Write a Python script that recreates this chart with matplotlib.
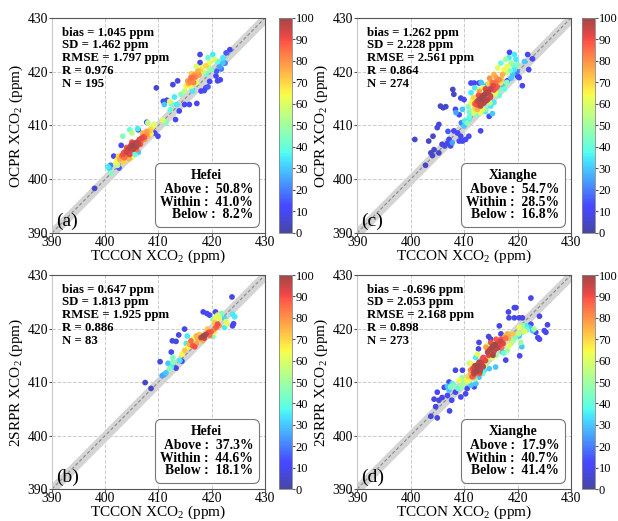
"""Scatter density comparison of OCPR / 2SRPR XCO2 against TCCON."""

import matplotlib

matplotlib.use("Agg")
import matplotlib.pyplot as plt
import numpy as np
from matplotlib.colors import ListedColormap
from matplotlib.offsetbox import AnchoredOffsetbox, TextArea, VPacker

plt.rcParams["font.family"] = ["Liberation Serif", "DejaVu Serif"]
plt.rcParams["mathtext.fontset"] = "custom"
plt.rcParams["mathtext.rm"] = "Liberation Serif"
plt.rcParams["mathtext.it"] = "Liberation Serif:italic"
plt.rcParams["mathtext.bf"] = "Liberation Serif:bold"

# ---- panel (a): OCPR vs TCCON, Hefei ----
a_x = [398.0, 400.5, 400.8, 401.1, 401.0, 401.6, 402.0, 402.3, 402.6, 402.7,
       403.0, 403.1, 403.3, 403.5, 403.8, 403.9, 404.2, 404.4, 404.6, 404.8,
       405.0, 405.2, 405.5, 405.8, 406.0, 406.2, 406.4, 406.7, 407.1, 407.4,
       407.7, 408.0, 408.3, 408.6, 408.9, 408.0, 409.2, 403.3, 404.6, 405.0,
       406.1, 407.8, 406.2, 403.5, 404.5, 405.6, 406.2, 404.9, 405.9, 409.3,
       409.9, 404.0, 405.3, 406.6, 407.2, 409.6, 411.4, 410.8, 413.2, 411.1,
       410.9, 411.6, 412.1, 412.4, 413.4, 413.9, 414.9, 415.8, 417.2, 412.2,
       412.7, 413.6, 414.2, 414.9, 413.0, 415.2, 415.5, 416.1, 416.4, 416.8,
       417.4, 417.1, 416.1, 416.4, 415.6, 417.0, 418.6, 418.0, 418.9, 419.3,
       417.8, 417.8, 417.1, 418.3, 418.9, 419.6, 419.3, 420.2, 420.5, 421.1,
       420.8, 421.1, 421.6, 420.9, 421.8, 422.1, 422.1, 422.7, 423.4, 419.6,
       419.0, 418.5, 419.5, 420.0, 421.5, 422.5, 415.9, 416.6, 417.6,
       404.0, 404.6, 405.3, 405.8, 406.3, 406.8, 407.3, 404.0, 405.0, 403.6,
       407.8, 408.5, 407.0, 402.5, 402.2, 415.9, 416.6, 417.6, 416.2, 417.9]
a_y = [398.3, 402.3, 402.0, 401.2, 402.6, 404.3, 403.0, 402.6, 402.1, 403.7,
       406.3, 404.3, 404.6, 405.0, 404.4, 405.2, 405.6, 405.0, 405.8, 406.3,
       405.5, 406.3, 406.0, 406.8, 406.2, 407.0, 407.4, 407.0, 407.9, 407.4,
       408.3, 408.0, 408.9, 408.5, 409.8, 410.5, 410.2, 408.0, 409.2, 408.6,
       409.4, 410.6, 409.2, 403.2, 403.8, 404.6, 405.0, 404.0, 405.5, 408.6,
       408.0, 404.9, 406.7, 406.5, 407.6, 417.0, 410.5, 411.0, 411.1, 413.9,
       414.5, 414.7, 414.5, 414.0, 413.9, 412.7, 413.9, 413.9, 414.1, 412.9,
       417.6, 418.3, 415.8, 416.4, 415.3, 417.3, 418.3, 418.9, 418.5, 419.5,
       420.1, 418.0, 417.3, 416.4, 417.8, 419.0, 416.5, 416.4, 417.0, 417.2,
       423.2, 421.7, 421.0, 420.8, 421.1, 421.7, 422.6, 423.2, 422.3, 421.9,
       419.2, 418.3, 418.5, 420.1, 420.5, 421.7, 422.6, 423.5, 424.1, 418.2,
       419.6, 419.9, 420.7, 420.4, 421.0, 421.6, 418.2, 419.0, 419.4,
       405.0, 404.6, 405.6, 406.0, 406.6, 407.6, 407.8, 405.9, 406.9, 404.0,
       408.9, 409.3, 408.6, 404.3, 403.6, 418.0, 418.0, 419.4, 419.6, 420.3]
a_d = [5, 35, 30, 45, 20, 10, 60, 55, 15, 75,
       10, 85, 90, 88, 85, 92, 95, 90, 98, 95,
       92, 100, 98, 97, 90, 92, 90, 85, 88, 80,
       80, 75, 72, 65, 62, 55, 60, 45, 40, 55,
       35, 10, 12, 70, 75, 40, 30, 60, 85, 10,
       10, 80, 95, 88, 82, 5, 45, 60, 10, 30,
       10, 10, 60, 45, 35, 10, 10, 10, 10, 40,
       8, 8, 45, 55, 35, 65, 78, 85, 80, 78,
       75, 62, 65, 35, 75, 80, 10, 10, 10, 15,
       8, 8, 60, 62, 70, 62, 40, 35, 60, 38,
       10, 10, 10, 15, 20, 30, 35, 15, 10, 12,
       40, 55, 50, 45, 25, 20, 82, 84, 78,
       95, 92, 98, 97, 95, 92, 90, 88, 90, 85,
       78, 70, 75, 70, 65, 80, 82, 78, 72, 70]

# ---- panel (c): OCPR vs TCCON, Xianghe ----
c_x = [400.8, 402.8, 403.4, 403.8, 404.1, 404.4, 404.2, 405.0, 405.3, 405.3,
       405.6, 406.1, 406.6, 405.9, 406.4, 406.9, 407.5, 407.8, 407.2, 407.9,
       408.1, 408.4, 408.5, 409.1, 409.4, 410.0, 409.7, 410.1, 408.8, 409.4,
       408.1, 409.1, 409.7, 410.3, 410.9, 410.0, 410.6, 410.9, 411.6, 411.9,
       413.1, 411.3, 411.9, 412.8, 413.8, 414.4, 414.7, 415.3, 411.3, 411.6,
       412.2, 412.8, 413.4, 414.1, 414.7, 415.3, 415.9, 416.6, 413.1, 413.7,
       414.4, 415.0, 415.9, 416.6, 417.2, 412.5, 412.0, 413.1, 414.1, 415.0,
       417.2, 417.5, 418.1, 418.8, 418.4, 418.5, 419.4, 419.7, 420.0, 419.4,
       419.1, 420.0, 420.3, 420.9, 418.1, 418.8, 421.9, 422.1, 422.8, 421.3,
       417.8, 416.9, 416.3, 415.6, 414.8, 413.0, 413.6, 414.3, 414.0, 413.4,
       412.6, 415.6, 416.2, 412.3, 411.0, 409.5, 407.0, 419.9, 412.9, 414.9,
       412.5, 413.0, 413.3, 413.8, 414.2, 414.6, 415.0, 415.5, 416.0, 412.0,
       413.6, 414.9, 415.3, 416.1, 412.7, 414.0, 411.8, 411.4, 412.1, 413.5,
       414.8, 415.8, 416.8, 417.0, 416.0, 413.6, 412.8, 414.6, 410.8, 411.0,
       412.3, 414.0, 415.6, 416.6, 417.6, 418.0, 412.0, 413.2, 417.8, 418.6,
       419.2]
c_y = [407.4, 402.6, 407.1, 404.9, 404.4, 405.5, 408.0, 409.6, 410.2, 404.9,
       413.6, 413.3, 413.5, 406.5, 406.2, 406.7, 406.2, 406.8, 407.4, 416.7,
       415.8, 413.0, 412.4, 412.0, 415.1, 414.8, 413.0, 410.8, 408.6, 408.0,
       409.0, 407.1, 407.1, 407.4, 408.0, 409.9, 410.5, 411.1, 412.7, 412.4,
       409.0, 417.9, 417.9, 417.9, 417.3, 417.6, 411.7, 412.2, 416.1, 414.8,
       414.2, 414.8, 415.4, 416.1, 416.7, 417.3, 417.9, 418.5, 413.6, 414.2,
       414.8, 415.4, 416.1, 416.7, 417.3, 413.0, 413.4, 412.4, 413.0, 413.6,
       419.5, 420.4, 421.0, 421.6, 422.6, 423.6, 423.2, 422.3, 421.3, 420.4,
       419.5, 419.2, 418.9, 417.4, 418.3, 418.8, 423.2, 420.4, 422.4, 421.9,
       422.3, 421.6, 420.7, 419.5, 418.8, 415.0, 415.6, 416.0, 414.5, 414.2,
       413.7, 416.6, 417.2, 413.9, 411.6, 410.5, 408.9, 420.0, 416.3, 415.2,
       414.5, 413.8, 414.9, 415.6, 414.7, 416.2, 416.8, 417.4, 417.0, 414.0,
       414.2, 415.5, 418.0, 418.2, 415.6, 416.8, 415.2, 414.1, 413.1, 413.0,
       414.2, 415.8, 417.9, 418.7, 418.9, 417.0, 416.6, 417.8, 413.5, 412.5,
       412.0, 412.6, 414.3, 415.6, 416.8, 418.0, 417.0, 418.0, 419.8, 420.2,
       421.2]
c_d = [5, 5, 5, 5, 5, 5, 5, 8, 8, 5,
       5, 5, 5, 8, 8, 8, 10, 25, 10, 5,
       5, 10, 25, 10, 8, 10, 30, 35, 10, 10,
       10, 10, 10, 10, 10, 30, 45, 35, 50, 60,
       10, 10, 10, 10, 30, 30, 10, 30, 35, 62,
       88, 98, 100, 98, 90, 88, 85, 82, 92, 97,
       95, 80, 62, 45, 30, 75, 60, 62, 45, 35,
       75, 65, 62, 50, 35, 10, 35, 35, 45, 35,
       30, 10, 10, 10, 12, 30, 10, 10, 10, 30,
       50, 40, 62, 75, 80, 95, 100, 96, 94, 93,
       85, 90, 88, 90, 40, 20, 15, 20, 78, 92,
       95, 97, 100, 100, 98, 97, 95, 92, 88, 85,
       96, 94, 85, 82, 90, 92, 70, 65, 70, 60,
       55, 55, 68, 72, 78, 62, 55, 70, 45, 40,
       45, 35, 35, 40, 40, 45, 35, 30, 55, 45,
       40]

# ---- panel (b): 2SRPR vs TCCON, Hefei ----
b_x = [407.5, 408.6, 410.3, 410.7, 411.1, 411.4, 412.1, 412.4, 411.8, 412.7,
       413.3, 414.0, 414.4, 414.4, 414.9, 415.2, 415.4, 414.9, 413.8, 412.6,
       413.3, 412.4, 412.7, 415.8, 416.1, 416.4, 417.1, 417.4, 417.7, 416.4,
       418.0, 418.4, 418.9, 419.4, 419.9, 418.3, 419.2, 417.1, 420.2, 420.5,
       420.8, 421.1, 421.4, 420.5, 420.2, 420.8, 421.4, 421.1, 421.8, 422.4,
       422.7, 422.9, 422.4, 423.9, 424.3, 424.1, 423.9, 423.8, 418.4, 419.1,
       420.7, 419.6, 415.5, 416.8, 418.6, 419.6, 420.4]
b_y = [409.9, 408.8, 413.8, 411.2, 411.4, 411.7, 412.5, 412.8, 413.5, 413.7,
       412.6, 414.0, 413.9, 415.2, 415.9, 417.2, 418.6, 419.9, 418.8, 417.7,
       417.6, 415.6, 414.6, 417.1, 417.7, 416.8, 417.1, 418.0, 418.9, 418.0,
       418.3, 418.6, 418.9, 419.3, 419.4, 417.7, 419.9, 418.6, 418.5, 419.3,
       420.2, 420.8, 420.5, 421.1, 421.7, 422.0, 421.9, 422.5, 422.8, 421.9,
       421.3, 420.9, 420.2, 422.7, 422.2, 420.9, 420.5, 425.9, 423.1, 422.8,
       423.1, 422.5, 416.5, 416.6, 418.2, 418.7, 419.8]
b_d = [5, 5, 8, 25, 25, 30, 45, 35, 30, 45,
       8, 35, 10, 65, 72, 35, 35, 8, 8, 8,
       8, 10, 45, 75, 85, 88, 78, 75, 72, 62,
       98, 100, 98, 90, 88, 75, 72, 75, 45, 62,
       88, 90, 78, 72, 50, 62, 62, 60, 45, 32,
       60, 62, 35, 35, 35, 10, 10, 8, 8, 10,
       10, 10, 65, 90, 95, 85, 80]

# ---- panel (d): 2SRPR vs TCCON, Xianghe ----
d_x = [403.8, 405.0, 404.7, 404.4, 405.3, 405.9, 405.0, 406.3, 407.2, 406.9,
       407.5, 407.8, 407.2, 406.9, 407.7, 407.3, 408.4, 408.1, 409.1, 409.6,
       409.7, 408.4, 409.4, 410.3, 410.6, 411.3, 411.9, 412.2, 412.8, 410.0,
       410.6, 411.3, 411.6, 412.2, 412.8, 413.4, 411.9, 413.1, 411.3, 412.2,
       412.5, 412.8, 412.7, 414.6, 415.0, 415.2, 414.1, 414.4, 415.0, 415.6,
       416.3, 416.9, 417.5, 418.1, 416.6, 415.3, 414.7, 414.1, 413.8, 414.7,
       415.9, 417.8, 417.2, 418.1, 418.4, 419.1, 419.1, 416.6, 416.9, 418.3,
       419.4, 419.7, 418.4, 419.4, 420.3, 420.9, 422.5, 424.1, 420.3, 420.9,
       421.6, 422.2, 422.5, 422.8, 423.1, 423.4, 423.8, 424.1, 425.0, 425.3,
       425.6, 420.6, 420.3, 420.8, 420.4, 421.3, 413.0, 413.6, 415.4, 416.0,
       415.7, 416.5, 417.2, 411.8, 412.6, 412.0, 414.0, 413.3, 417.8, 410.8,
       414.8, 415.3, 415.8, 416.3, 416.8, 417.3, 417.8, 415.0, 416.0, 414.6,
       415.5, 418.3, 417.0, 411.8, 412.3, 412.6, 413.0, 413.3, 412.0, 411.5,
       413.6, 412.9, 411.2, 410.8, 410.5, 409.6, 408.9, 411.0, 413.8, 414.2,
       414.3, 416.0, 417.4, 418.8, 419.5, 420.2, 421.0, 421.8, 413.5, 412.0]
d_y = [403.6, 403.3, 405.4, 406.8, 406.6, 407.1, 408.1, 409.0, 410.0, 409.2,
       409.1, 409.7, 408.5, 407.5, 406.6, 404.6, 408.1, 409.4, 410.3, 410.8,
       412.2, 412.2, 407.2, 407.8, 408.8, 409.4, 409.1, 409.7, 410.9, 409.7,
       410.6, 411.5, 412.5, 413.1, 413.7, 414.3, 411.5, 412.5, 413.4, 414.6,
       415.2, 417.4, 416.2, 418.5, 418.0, 417.1, 416.5, 415.6, 416.2, 416.8,
       417.4, 418.0, 418.3, 419.0, 416.8, 414.6, 414.6, 413.4, 412.2, 412.5,
       412.8, 414.1, 415.6, 415.9, 416.8, 417.7, 419.0, 420.5, 419.0, 423.1,
       423.9, 423.9, 422.0, 422.0, 422.0, 422.0, 425.7, 422.3, 420.2, 420.5,
       420.5, 420.2, 420.8, 419.6, 419.9, 419.3, 418.3, 418.0, 419.6, 419.3,
       420.7, 417.4, 418.6, 416.6, 414.9, 419.5, 412.0, 412.9, 415.0, 416.3,
       416.0, 417.0, 417.8, 411.0, 412.2, 412.4, 414.0, 413.2, 418.6, 410.2,
       416.0, 416.6, 417.0, 416.4, 417.6, 417.2, 418.2, 417.4, 418.0, 415.0,
       415.6, 418.2, 416.4, 411.8, 412.0, 413.0, 412.4, 413.6, 413.0, 411.0,
       414.6, 411.6, 412.2, 411.0, 410.2, 409.2, 408.8, 413.5, 413.0, 414.0,
       416.8, 415.0, 415.4, 417.2, 418.2, 419.0, 419.3, 419.8, 411.6, 410.6]
d_d = [8, 8, 8, 8, 8, 8, 10, 10, 10, 30,
       45, 35, 30, 10, 10, 8, 10, 45, 62, 50,
       8, 8, 10, 10, 10, 30, 10, 30, 30, 50,
       62, 75, 90, 98, 98, 90, 97, 90, 62, 35,
       62, 8, 8, 8, 8, 30, 78, 98, 98, 98,
       90, 88, 78, 75, 90, 62, 50, 50, 35, 30,
       30, 8, 30, 50, 62, 50, 72, 8, 8, 8,
       8, 8, 8, 8, 8, 8, 8, 8, 62, 50,
       35, 30, 10, 30, 50, 10, 10, 10, 10, 10,
       8, 50, 30, 30, 10, 62, 95, 97, 100, 97,
       95, 92, 85, 80, 98, 96, 92, 95, 70, 60,
       98, 100, 100, 97, 95, 92, 85, 90, 88, 92,
       95, 75, 85, 95, 100, 100, 97, 95, 92, 88,
       90, 90, 80, 70, 62, 50, 40, 55, 60, 70,
       55, 50, 40, 55, 45, 55, 45, 40, 40, 50]

panel_tags = ["(a)", "(c)", "(b)", "(d)"]
y_labels = ["OCPR XCO$_2$ (ppm)", "OCPR XCO$_2$ (ppm)",
            "2SRPR XCO$_2$ (ppm)", "2SRPR XCO$_2$ (ppm)"]
stations = ["Hefei", "Xianghe", "Hefei", "Xianghe"]
bias = ["1.045", "1.262", "0.647", "-0.696"]
sd = ["1.462", "2.228", "1.813", "2.053"]
rmse = ["1.797", "2.561", "1.925", "2.168"]
r_vals = ["0.976", "0.864", "0.886", "0.898"]
n_vals = ["195", "274", "83", "273"]
above = ["50.8%", "54.7%", "37.3%", "17.9%"]
within = ["41.0%", "28.5%", "44.6%", "40.7%"]
below = ["8.2%", "16.8%", "18.1%", "41.4%"]

LIMITS = (390, 430)
BAND = 1.2

# jet, washed out towards white (looks like alpha ~0.72)
_jet = plt.get_cmap("jet")(np.linspace(0, 1, 256))[:, :3]
CMAP = ListedColormap(0.72 * _jet + 0.28)

TICK_SIZE = 9.8
LABEL_SIZE = 11


def draw_panel(fig, rect, cbar_rect, xs, ys, ds, idx):
    ax = fig.add_axes(rect)
    line = np.array(LIMITS)
    ax.fill_between(line, line - BAND, line + BAND, color="#d4d4d4", zorder=1, lw=0)
    ax.plot(line, line, ls=(0, (3, 2)), color="#8a8a8a", lw=0.8, zorder=2)

    order = np.argsort(ds, kind="stable")
    x = np.asarray(xs)[order]
    y = np.asarray(ys)[order]
    d = np.asarray(ds)[order]
    sc = ax.scatter(x, y, c=d, cmap=CMAP, vmin=0, vmax=100, s=17,
                    edgecolors="none", zorder=3)

    ax.set_xlim(*LIMITS)
    ax.set_ylim(*LIMITS)
    ticks = np.arange(390, 431, 10)
    ax.set_xticks(ticks)
    ax.set_yticks(ticks)
    ax.tick_params(labelsize=TICK_SIZE, length=2, color="#555555", pad=1)
    ax.tick_params(axis="x", pad=0.5)
    ax.grid(True, ls="--", color="#cccccc", lw=0.7, zorder=0)
    ax.set_axisbelow(True)
    for side in ["top", "right", "bottom"]:
        ax.spines[side].set_color("#555555")
    ax.spines["left"].set_color("#c8c8c8")
    ax.set_xlabel("TCCON XCO$_2$ (ppm)", fontsize=LABEL_SIZE, labelpad=-1)
    ax.set_ylabel(y_labels[idx], fontsize=LABEL_SIZE, labelpad=2)

    stats = (f"bias = {bias[idx]} ppm\nSD = {sd[idx]} ppm\n"
             f"RMSE = {rmse[idx]} ppm\nR = {r_vals[idx]}\nN = {n_vals[idx]}")
    ax.text(0.045, 0.96, stats, transform=ax.transAxes, ha="left", va="top",
            fontsize=9.2, fontweight="bold", linespacing=1.1, zorder=5)

    bold = dict(fontsize=9.8, fontweight="bold")
    title = TextArea(stations[idx], textprops=bold)
    body = TextArea(f"Above :  {above[idx]}\nWithin :  {within[idx]}\n"
                    f"Below :  {below[idx]}",
                    textprops=dict(multialignment="right", linespacing=0.95, **bold))
    pack = VPacker(children=[title, body], align="center", pad=0, sep=1)
    box = AnchoredOffsetbox(loc="lower right", child=pack, pad=0.3,
                            borderpad=0.55, frameon=True)
    box.patch.set_boxstyle("round,pad=0.1,rounding_size=0.4")
    box.patch.set_edgecolor("#777777")
    box.patch.set_linewidth(0.8)
    box.set_zorder(5)
    ax.add_artist(box)

    ax.text(0.02, 0.012, panel_tags[idx], transform=ax.transAxes,
            ha="left", va="bottom", fontsize=14, zorder=5)

    cax = fig.add_axes(cbar_rect)
    cb = fig.colorbar(sc, cax=cax, ticks=np.arange(0, 101, 10))
    cb.outline.set_edgecolor("#888888")
    cb.outline.set_linewidth(0.6)
    cax.tick_params(labelsize=9.0, length=2, color="#555555", pad=0.5)
    return ax


fig = plt.figure(figsize=(6.18, 5.21), dpi=100)
rects = [
    ([0.0841, 0.5528, 0.3447, 0.4127], [0.4515, 0.5528, 0.021, 0.4127]),
    ([0.5777, 0.5528, 0.3463, 0.4127], [0.9420, 0.5528, 0.021, 0.4127]),
    ([0.0841, 0.0614, 0.3447, 0.4107], [0.4515, 0.0614, 0.021, 0.4107]),
    ([0.5777, 0.0614, 0.3463, 0.4107], [0.9420, 0.0614, 0.021, 0.4107]),
]
data = [(a_x, a_y, a_d), (c_x, c_y, c_d), (b_x, b_y, b_d), (d_x, d_y, d_d)]
for i, ((rect, crect), (xs, ys, ds)) in enumerate(zip(rects, data)):
    draw_panel(fig, rect, crect, xs, ys, ds, i)

fig.savefig("out.png", dpi=100)
